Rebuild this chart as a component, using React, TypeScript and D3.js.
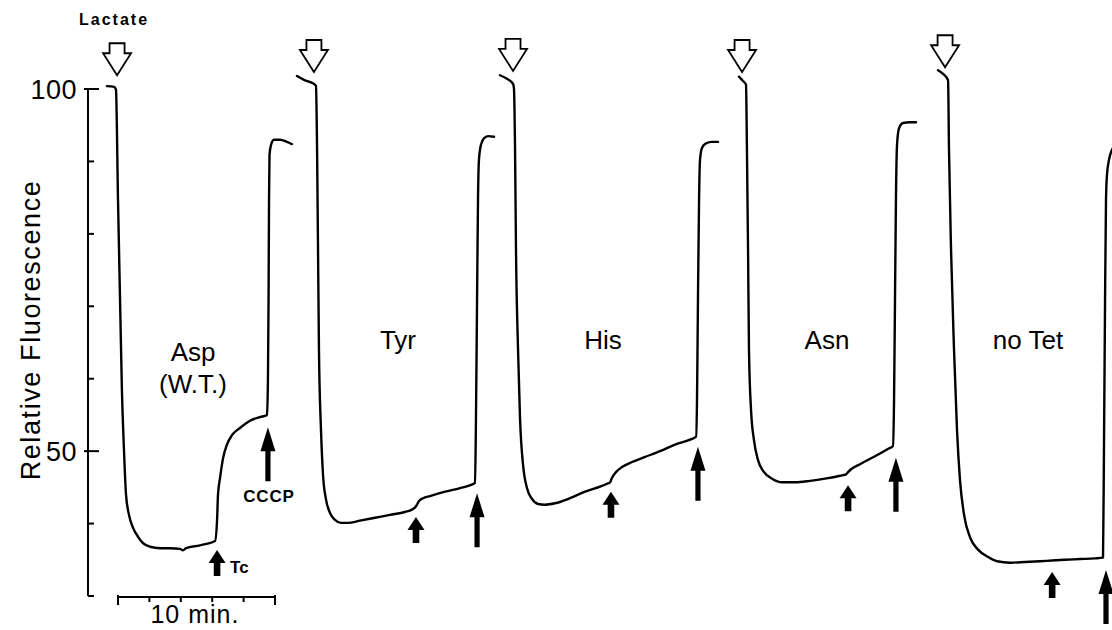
import React from 'react';
import * as d3 from 'd3';

const W = 1112;
const H = 630;

// each trace: [time (min), relative fluorescence]
const aspTrace = [
  [-0.7, 100.4], [-0.25, 100.3], [-0.13, 99.9], [0, 84.7], [0.13, 70.9], [0.25, 58.4], [0.38, 50.2],
  [0.51, 44.0], [0.7, 41.2], [0.96, 39.4], [1.27, 38.2], [1.59, 37.3], [2.04, 36.8], [2.68, 36.6],
  [3.31, 36.6], [3.95, 36.5], [4.14, 36.3], [4.33, 36.6], [5.22, 37.0], [6.18, 37.6], [6.31, 40.5],
  [6.37, 44.0], [6.5, 46.3], [6.69, 49.0], [6.94, 50.9], [7.26, 52.2], [7.77, 53.2], [8.41, 54.2],
  [9.05, 54.7], [9.49, 55.0], [9.55, 59.8], [9.59, 70.9], [9.62, 84.7], [9.65, 90.9], [9.75, 92.3],
  [9.94, 93.0], [10.32, 93.0], [10.76, 92.7], [11.08, 92.4],
];
const tyrTrace = [
  [11.4, 101.8], [11.91, 101.2], [12.48, 100.7], [12.61, 100.4], [12.68, 91.6], [12.74, 77.8],
  [12.8, 64.0], [12.93, 52.9], [13.06, 46.7], [13.25, 43.3], [13.5, 41.5], [13.82, 40.5], [14.2, 40.1],
  [14.65, 40.1], [15.41, 40.4], [16.37, 40.8], [17.32, 41.2], [18.28, 41.6], [18.79, 42.0],
  [18.98, 42.4], [19.17, 43.1], [19.43, 43.5], [19.87, 43.8], [20.83, 44.4], [21.78, 44.9],
  [22.74, 45.6], [22.8, 54.3], [22.87, 70.9], [22.93, 84.7], [22.99, 90.2], [23.12, 92.3],
  [23.31, 93.2], [23.57, 93.5], [23.95, 93.4],
];
const hisTrace = [
  [24.33, 101.9], [24.78, 101.4], [25.16, 100.7], [25.22, 100.1], [25.29, 91.6], [25.35, 77.8],
  [25.48, 64.0], [25.61, 54.3], [25.8, 48.1], [26.05, 44.9], [26.37, 43.4], [26.75, 42.7],
  [27.2, 42.6], [27.83, 42.8], [28.79, 43.5], [29.75, 44.4], [30.7, 45.1], [31.15, 45.5],
  [31.34, 45.7], [31.46, 46.3], [31.72, 47.1], [32.1, 47.8], [32.74, 48.5], [33.57, 49.2],
  [34.52, 50.0], [35.48, 50.9], [36.31, 51.5], [36.82, 52.0], [36.88, 57.1], [36.94, 70.9],
  [37.01, 84.7], [37.07, 90.2], [37.2, 91.9], [37.45, 92.5], [37.83, 92.7], [38.22, 92.7],
];
const asnTrace = [
  [39.55, 101.7], [39.81, 101.1], [40.0, 100.6], [40.06, 91.6], [40.13, 77.8], [40.19, 64.0],
  [40.32, 55.7], [40.51, 51.5], [40.76, 48.8], [41.15, 47.1], [41.66, 46.2], [42.29, 45.7],
  [43.12, 45.7], [44.08, 45.9], [45.03, 46.2], [45.99, 46.6], [46.37, 46.8], [46.5, 47.1],
  [46.69, 47.5], [47.26, 48.2], [48.22, 49.3], [49.04, 50.3], [49.36, 50.7], [49.43, 57.1],
  [49.49, 70.9], [49.55, 84.7], [49.62, 92.3], [49.75, 94.6], [50.0, 95.3], [50.45, 95.4],
  [50.83, 95.4],
];
const noTetTrace = [
  [52.23, 102.6], [52.55, 102.1], [52.87, 101.2], [52.93, 91.6], [53.06, 77.8], [53.25, 64.0],
  [53.44, 52.9], [53.63, 46.0], [53.89, 41.2], [54.27, 38.1], [54.78, 36.4], [55.41, 35.4],
  [55.99, 34.8], [56.82, 34.6], [57.77, 34.7], [58.73, 34.8], [59.49, 34.9], [60.32, 35.0],
  [61.27, 35.1], [62.23, 35.2], [62.74, 35.3], [62.8, 50.2], [62.87, 70.9], [62.93, 84.7],
  [62.99, 88.1], [63.12, 90.2], [63.31, 91.6], [63.57, 92.3],
];
const traces = [aspTrace, tyrTrace, hisTrace, asnTrace, noTetTrace];

const conditions = ['Asp', 'Tyr', 'His', 'Asn', 'no Tet'];
const labelTimes = [4.78, 17.83, 30.89, 45.16, 57.96];
const labelValues = [63.7, 65.4, 65.4, 65.4, 65.4];

// open arrows (lactate addition), tip positions
const lactateTimes = [-0.06, 12.48, 25.16, 39.75, 52.68];
const lactateValues = [101.9, 102.35, 102.5, 102.35, 103.0];
// short filled arrows (Tc), tip positions
const tcTimes = [6.31, 18.98, 31.4, 46.5, 59.5];
const tcValues = [36.35, 40.9, 44.4, 45.3, 33.3];
// long filled arrows (CCCP), tip positions
const cccpTimes = [9.55, 22.87, 36.94, 49.55, 62.93];
const cccpValues = [53.3, 44.2, 50.6, 49.1, 33.6];

const yTicks = [100, 90, 80, 70, 60, 50, 40, 30];
const yLabels = [100, 50];
const scaleBarTicks = [0, 2, 4, 6, 8, 10];

const font = "'Liberation Sans', Arial, Helvetica, sans-serif";

function filledArrow(x: number, y: number, len: number, head: number, hw: number, sw: number) {
  return `M${x},${y} L${x + hw},${y + head} L${x + sw},${y + head} L${x + sw},${y + len} ` +
    `L${x - sw},${y + len} L${x - sw},${y + head} L${x - hw},${y + head} Z`;
}

function openArrow(x: number, y: number) {
  return `M${x},${y} L${x + 14},${y - 22} L${x + 7.5},${y - 22} L${x + 7.5},${y - 32} ` +
    `L${x - 7.5},${y - 32} L${x - 7.5},${y - 22} L${x - 14},${y - 22} Z`;
}

export default function App() {
  const x = d3.scaleLinear().domain([0, 10]).range([118, 275]);
  const y = d3.scaleLinear().domain([30, 100]).range([596, 89]);
  const axisX = 88;

  const line = d3.line<number[]>()
    .x(d => x(d[0]))
    .y(d => y(d[1]))
    .curve(d3.curveMonotoneX);

  const barY = y(30) + 1;

  return (
    <svg width={W} height={H} style={{ position: 'absolute', left: 0, top: 0, background: '#fff' }}
      fontFamily={font}>
      <rect width={W} height={H} fill="#fff" />

      {/* y axis */}
      <line x1={axisX} x2={axisX} y1={y(100)} y2={y(30)} stroke="#000" strokeWidth={2} />
      {yTicks.map(t => {
        const major = yLabels.includes(t);
        return (
          <line key={t} x1={major ? axisX - 4 : axisX} x2={major ? axisX + 11 : axisX + 6}
            y1={y(t)} y2={y(t)} stroke="#000" strokeWidth={2} />
        );
      })}
      {yLabels.map(t => (
        <text key={t} x={axisX - 11} y={y(t)} dy="0.36em" textAnchor="end" fontSize={27}
          letterSpacing={0.5}>{t}</text>
      ))}
      <text transform={`translate(40,330) rotate(-90)`} textAnchor="middle" fontSize={27}
        letterSpacing={1.6}>Relative Fluorescence</text>

      {/* time scale bar */}
      <line x1={x(0)} x2={x(10)} y1={barY} y2={barY} stroke="#000" strokeWidth={2} />
      {scaleBarTicks.map((t, i) => {
        const end = i === 0 || i === scaleBarTicks.length - 1;
        return (
          <line key={t} x1={x(t)} x2={x(t)} y1={end ? barY - 2 : barY} y2={barY + (end ? 8 : 5)}
            stroke="#000" strokeWidth={2} />
        );
      })}
      <text x={x(4.9)} y={barY + 26} textAnchor="middle" fontSize={25} letterSpacing={1}>10 min.</text>

      {/* traces */}
      {traces.map((tr, i) => (
        <path key={i} d={line(tr) || ''} fill="none" stroke="#000" strokeWidth={2.4}
          strokeLinejoin="round" strokeLinecap="round" />
      ))}

      {/* lactate arrows */}
      <text x={x(-0.25)} y={25} textAnchor="middle" fontSize={16} fontWeight="bold"
        letterSpacing={2}>Lactate</text>
      {lactateTimes.map((t, i) => (
        <path key={i} d={openArrow(x(t), y(lactateValues[i]))} fill="#fff" stroke="#000"
          strokeWidth={1.8} strokeLinejoin="miter" />
      ))}

      {/* Tc arrows */}
      {tcTimes.map((t, i) => (
        <path key={i} d={filledArrow(x(t), y(tcValues[i]), 26, 13, 8.5, 3.3)} fill="#000" />
      ))}
      <text x={x(6.31) + 13} y={y(36.35) + 23} fontSize={17} fontWeight="bold">Tc</text>

      {/* CCCP arrows */}
      {cccpTimes.map((t, i) => (
        <path key={i} d={filledArrow(x(t), y(cccpValues[i]), 54, 24, 7.5, 2.6)} fill="#000" />
      ))}
      <text x={x(9.55) + 1} y={y(53.3) + 75} textAnchor="middle" fontSize={17} fontWeight="bold"
        letterSpacing={0.8}>CCCP</text>

      {/* condition labels */}
      {conditions.map((c, i) => (
        <text key={c} x={x(labelTimes[i])} y={y(labelValues[i])} dy="0.36em" textAnchor="middle"
          fontSize={26}>{c}</text>
      ))}
      <text x={x(labelTimes[0])} y={y(labelValues[0]) + 32} dy="0.36em" textAnchor="middle"
        fontSize={26}>(W.T.)</text>
    </svg>
  );
}
